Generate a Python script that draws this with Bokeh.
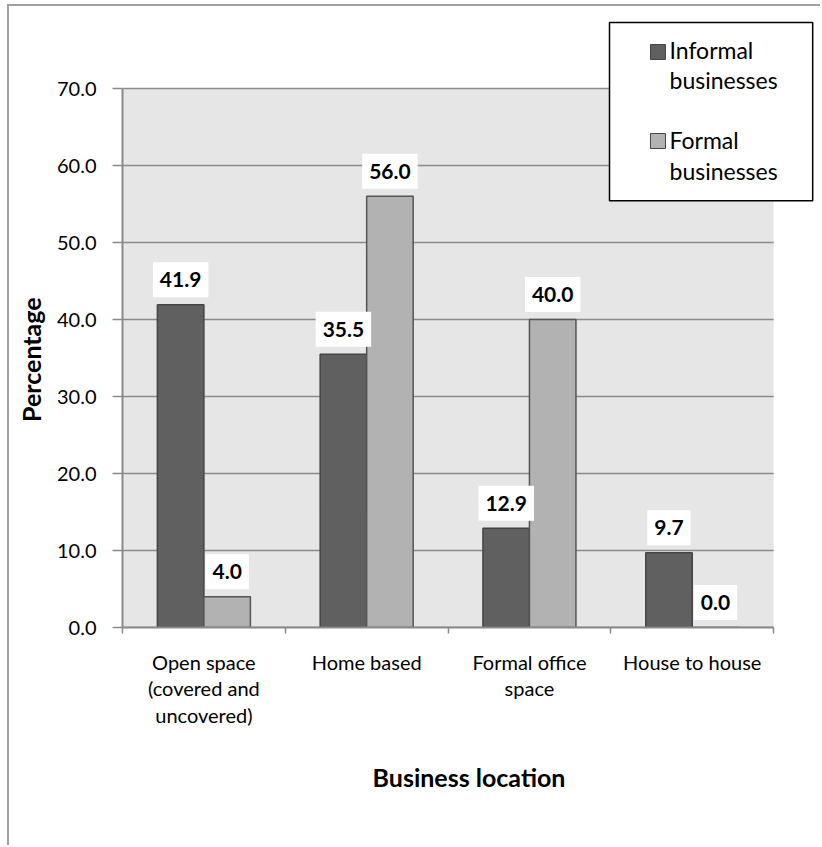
from bokeh.plotting import figure
from bokeh.models import Range1d, FixedTicker, Label, BoxAnnotation, Title
from bokeh.core.properties import value
from bokeh.embed import file_html
from bokeh.resources import INLINE

# ---- data ----
categories = ["Open space\n(covered and\nuncovered)", "Home based",
              "Formal office\nspace", "House to house"]
informal = [41.9, 35.5, 12.9, 9.7]
formal = [4.0, 56.0, 40.0, 0.0]
series_names = ["Informal\nbusinesses", "Formal\nbusinesses"]
series_colors = ["#606060", "#B2B2B2"]
y_ticks = [0, 10, 20, 30, 40, 50, 60, 70]
y_tick_labels = ["0.0", "10.0", "20.0", "30.0", "40.0", "50.0", "60.0", "70.0"]
x_title = "Business location"
y_title = "Percentage"

# ---- layout geometry (pixels) ----
FONT = "Lato"
GRID = "#8A8A8A"
PLOT_LEFT, PLOT_RIGHT, PLOT_TOP, PLOT_BOTTOM = 120, 773, 88, 627   # grey plot area
FRAME_TOP, FRAME_RIGHT = 20, 815                                   # frame also holds legend
FIG_X0, FIG_Y0 = 9, 6
FIG_W, FIG_H = 822 - FIG_X0, 847 - FIG_Y0

n = len(categories)
y_lo, y_hi = y_ticks[0], y_ticks[-1]
px_y = (PLOT_BOTTOM - PLOT_TOP) / (y_hi - y_lo)
px_x = (PLOT_RIGHT - PLOT_LEFT) / n
y_range_top = y_hi + (PLOT_TOP - FRAME_TOP) / px_y
x_range_right = n + (FRAME_RIGHT - PLOT_RIGHT) / px_x

bar_w = 1 / 3.5
centers = [i + 0.5 for i in range(n)]
x_inf = [c - bar_w / 2 for c in centers]
x_for = [c + bar_w / 2 for c in centers]

p = figure(width=FIG_W, height=FIG_H, x_range=Range1d(0, x_range_right),
           y_range=Range1d(y_lo, y_range_top),
           output_backend="svg", toolbar_location=None,
           min_border_left=PLOT_LEFT - FIG_X0,
           min_border_right=FIG_X0 + FIG_W - FRAME_RIGHT,
           min_border_top=FRAME_TOP - FIG_Y0,
           min_border_bottom=FIG_Y0 + FIG_H - PLOT_BOTTOM)
p.styles = {"border-left": "2px solid #A0A0A0", "border-top": "2px solid #A0A0A0",
            "margin-left": "7px", "margin-top": "4px"}
p.background_fill_color = "white"
p.border_fill_color = "white"
p.outline_line_color = None
p.xgrid.visible = False
p.ygrid.visible = False

# grey plot area and horizontal gridlines
p.quad(left=[0], right=[n], bottom=[y_lo], top=[y_hi], fill_color="#E6E6E6",
       line_color=None)
p.segment(x0=[0] * len(y_ticks), x1=[n] * len(y_ticks), y0=y_ticks, y1=y_ticks,
          line_color=GRID, line_width=1.5)

# y axis
ya = p.yaxis[0]
ya.bounds = (y_lo, y_hi)
ya.ticker = FixedTicker(ticks=y_ticks)
ya.major_label_overrides = {t: l for t, l in zip(y_ticks, y_tick_labels)}
ya.axis_line_color = GRID
ya.axis_line_width = 2
ya.major_tick_line_color = GRID
ya.major_tick_line_width = 1.5
ya.major_tick_out = 10
ya.major_tick_in = 0
ya.minor_tick_line_color = None
ya.major_label_standoff = 16
ya.major_label_text_font = FONT
ya.major_label_text_font_size = "20px"
ya.major_label_text_color = "black"

# y axis title, centred on the grey plot area (not on the taller frame)
p.add_layout(Title(text=y_title, align="left",
                   offset=(PLOT_BOTTOM - PLOT_TOP) / 2 - 64,
                   text_font=FONT, text_font_style="bold", text_font_size="25px",
                   text_color="black", standoff=12, vertical_align="top"), "left")

# x axis
xa = p.xaxis[0]
xa.bounds = (0, n)
xa.ticker = FixedTicker(ticks=centers, minor_ticks=list(range(n + 1)))
xa.major_label_overrides = {c: cat for c, cat in zip(centers, categories)}
xa.axis_line_color = GRID
xa.axis_line_width = 2
xa.major_tick_out = 0
xa.major_tick_in = 0
xa.major_tick_line_color = None
xa.minor_tick_out = 6
xa.minor_tick_in = 0
xa.minor_tick_line_color = GRID
xa.minor_tick_line_width = 1.5
xa.major_label_standoff = 16
xa.major_label_text_font = FONT
xa.major_label_text_font_size = "20px"
xa.major_label_text_color = "black"
xa.major_label_text_line_height = 1.12
xa.axis_label = x_title
xa.axis_label_text_font = FONT
xa.axis_label_text_font_style = "bold"
xa.axis_label_text_font_size = "25px"
xa.axis_label_text_color = "black"
xa.axis_label_standoff = 32

# bars
p.vbar(x=x_inf, top=informal, width=bar_w, fill_color=series_colors[0],
       line_color="#454545", line_width=1.5)
p.vbar(x=x_for, top=formal, width=bar_w, fill_color=series_colors[1],
       line_color="#555555", line_width=1.5)

# data labels
for xs, vals in ((x_inf, informal), (x_for, formal)):
    p.text(x=xs, y=vals, text=[f"{v:.1f}" for v in vals], y_offset=-25,
           text_align="center", text_baseline="middle",
           text_font=value(FONT), text_font_style="bold", text_font_size="21px",
           text_color="black", background_fill_color="white",
           padding=(7, 7, 10, 10))

# legend (drawn inside the frame, above the plot area)
leg_left, leg_top = 607, 22
leg = Label(x=leg_left - PLOT_LEFT, y=PLOT_BOTTOM - leg_top,
            x_units="screen", y_units="screen",
            text="\n".join([series_names[0], "", series_names[1]]),
            text_align="left", text_baseline="top",
            text_font=FONT, text_font_size="23px", text_line_height=1.083,
            text_color="black", background_fill_color="white",
            border_line_color="black", border_line_width=1.5,
            padding=(60, 35, 13, 16))
p.add_layout(leg)
for top_px, col in zip([44, 133], series_colors):
    p.add_layout(BoxAnnotation(left=648 - PLOT_LEFT, right=663 - PLOT_LEFT,
                               top=PLOT_BOTTOM - top_px,
                               bottom=PLOT_BOTTOM - top_px - 15,
                               left_units="screen", right_units="screen",
                               top_units="screen", bottom_units="screen",
                               fill_color=col, fill_alpha=1, line_color="#454545",
                               line_width=1, line_alpha=1))

open("out.html", "w").write(file_html(p, INLINE))
